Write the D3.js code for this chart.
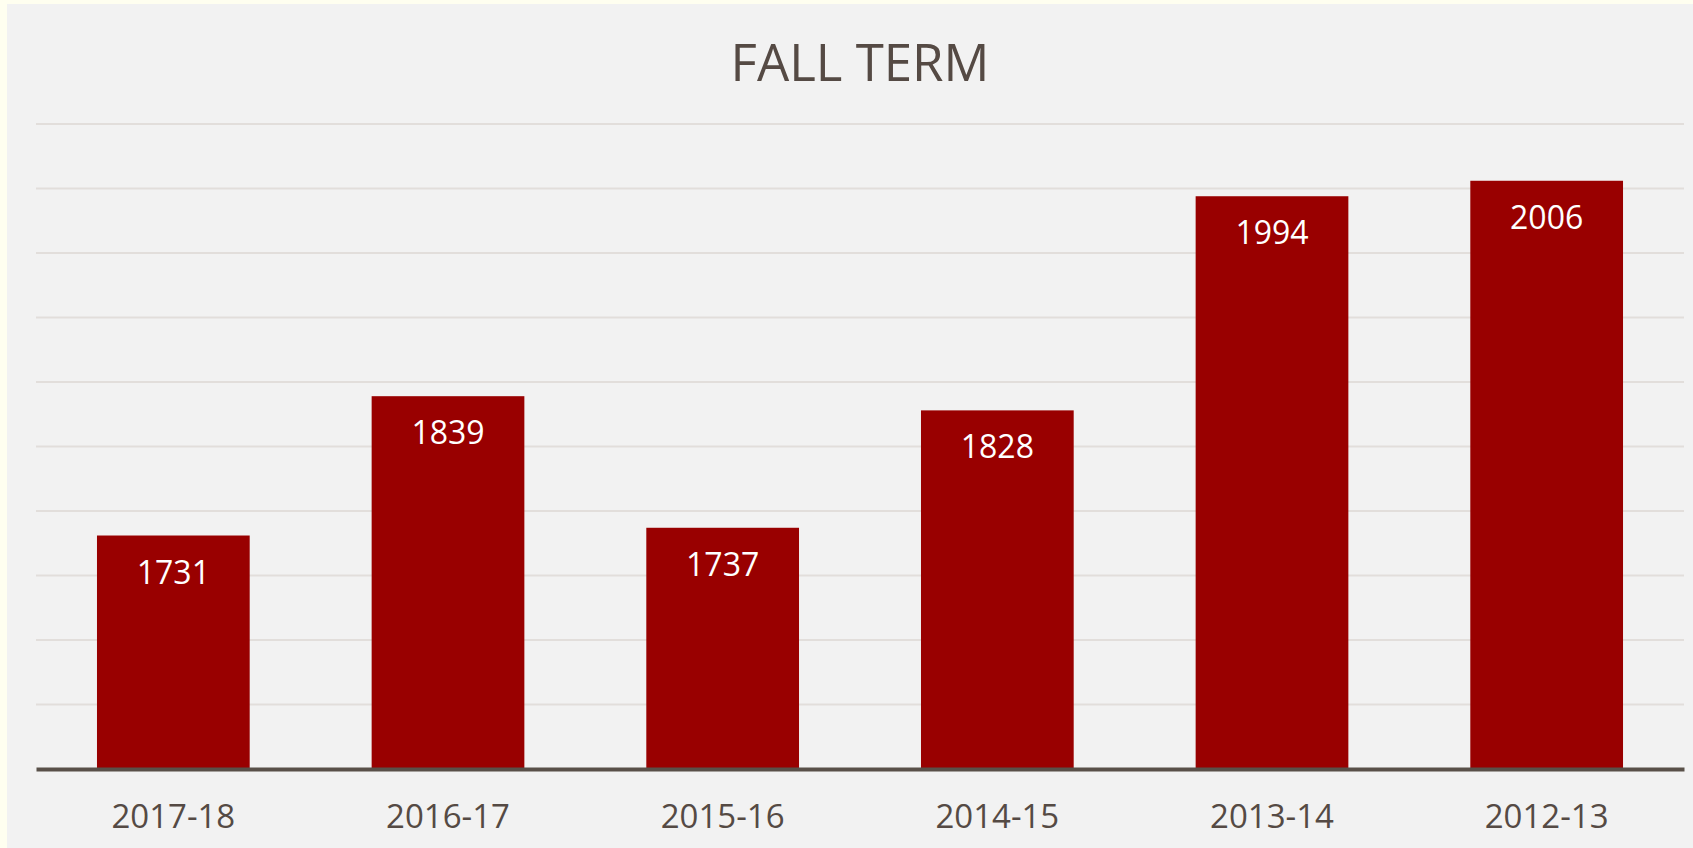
<!DOCTYPE html>
<html>
<head>
<meta charset="utf-8">
<script src="https://cdn.jsdelivr.net/npm/d3@7"></script>
<style>
  body { margin: 0; background: #fffff0; }
  svg { display: block; }
  text { font-family: "Open Sans", "Noto Sans", sans-serif; }
</style>
</head>
<body>
<svg id="chart" width="1693" height="848"></svg>
<script>
// chart data
var terms = ["2017-18", "2016-17", "2015-16", "2014-15", "2013-14", "2012-13"];
var enrollment = [1731, 1839, 1737, 1828, 1994, 2006];
var yTicks = [1550, 1600, 1650, 1700, 1750, 1800, 1850, 1900, 1950, 2000, 2050];
var title = "FALL TERM";

var svg = d3.select("#chart"),
    margin = { top: 124, right: 9, bottom: 79, left: 36 },
    width = +svg.attr("width") - margin.left - margin.right,
    height = +svg.attr("height") - margin.top - margin.bottom;

var textColor = "#554a44";

// panel background
svg.append("rect")
    .attr("x", 7).attr("y", 4)
    .attr("width", 1686).attr("height", 844)
    .attr("fill", "#f2f2f2");

var g = svg.append("g").attr("transform", "translate(" + margin.left + "," + margin.top + ")");

var x = d3.scaleBand().domain(terms).range([0, width]).paddingInner(0.444).paddingOuter(0.222),
    y = d3.scaleLinear().domain([1550, 2050]).range([height, 0]);

// gridlines
g.append("g")
    .selectAll("line")
    .data(yTicks.slice(1))
    .enter().append("line")
    .attr("x1", 0).attr("x2", width)
    .attr("y1", d => y(d)).attr("y2", d => y(d))
    .attr("stroke", "#e2dedb")
    .attr("stroke-width", 2);

// bars
g.selectAll(".bar")
    .data(enrollment)
    .enter().append("rect")
    .attr("class", "bar")
    .attr("x", (d, i) => x(terms[i]))
    .attr("width", x.bandwidth())
    .attr("y", d => y(d))
    .attr("height", d => height - y(d))
    .attr("fill", "#990000");

// value labels
g.selectAll(".val")
    .data(enrollment)
    .enter().append("text")
    .attr("class", "val")
    .attr("x", (d, i) => x(terms[i]) + x.bandwidth() / 2)
    .attr("y", d => y(d) + 48)
    .attr("text-anchor", "middle")
    .attr("fill", "#ffffff")
    .style("font-size", "32px")
    .text(d => d);

// x axis
var xAxis = g.append("g")
    .attr("transform", "translate(0," + height + ")")
    .call(d3.axisBottom(x).tickSize(0).tickPadding(36));
xAxis.select(".domain")
    .attr("stroke", "#595049")
    .attr("stroke-width", 4);
xAxis.selectAll("text")
    .attr("fill", textColor)
    .style("font-size", "33px")
    .style("font-family", "'Open Sans', 'Noto Sans', sans-serif");

// title
svg.append("text")
    .attr("x", margin.left + width / 2)
    .attr("y", 81)
    .attr("text-anchor", "middle")
    .attr("fill", textColor)
    .style("font-size", "51px")
    .text(title);
</script>
</body>
</html>
